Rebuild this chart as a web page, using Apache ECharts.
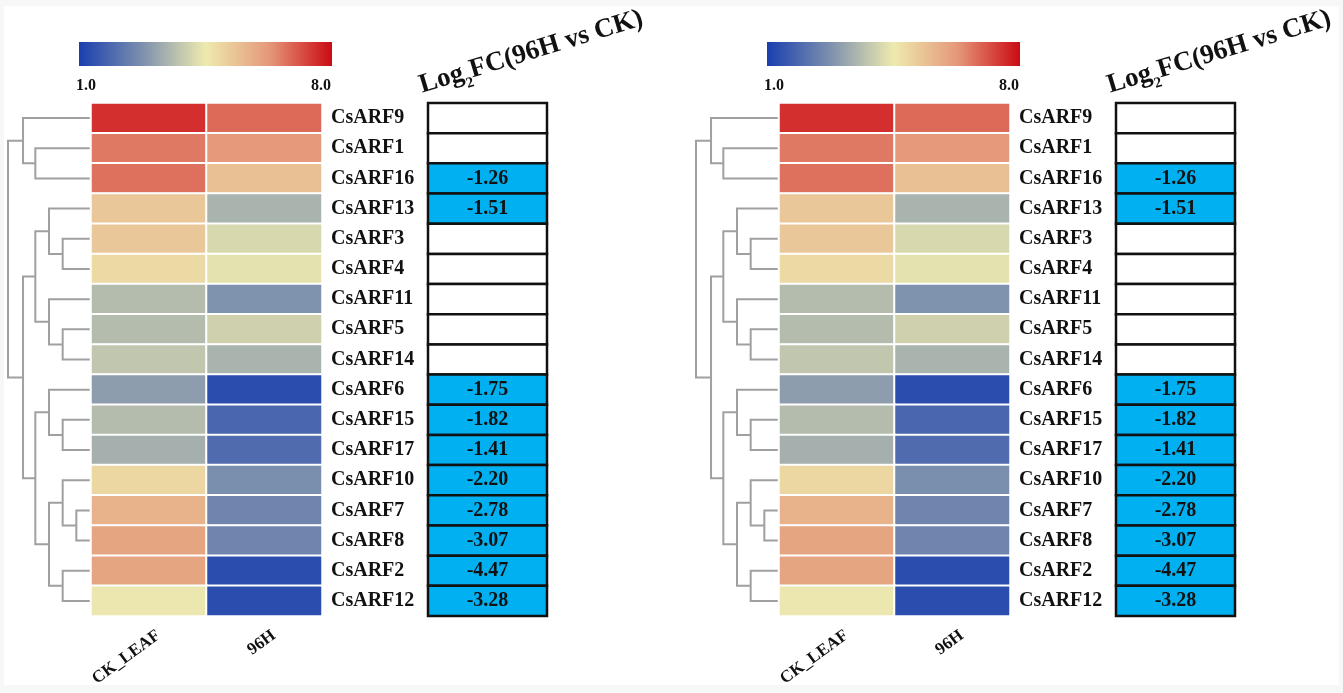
<!DOCTYPE html>
<html>
<head>
<meta charset="utf-8">
<script src="https://cdn.jsdelivr.net/npm/echarts@6/dist/echarts.min.js"></script>
<style>
html,body{margin:0;padding:0;background:#fff;}
#chart{width:1343px;height:693px;}
</style>
</head>
<body>
<div id="chart"></div>
<script>
// ---- data ----
const genes = ['CsARF9','CsARF1','CsARF16','CsARF13','CsARF3','CsARF4','CsARF11','CsARF5','CsARF14','CsARF6','CsARF15','CsARF17','CsARF10','CsARF7','CsARF8','CsARF2','CsARF12'];
const samples = ['CK_LEAF','96H'];
const ckValues  = [7.55, 6.64, 6.74, 5.25, 5.25, 4.85, 3.6, 3.6, 3.8, 3.0, 3.6, 3.35, 4.9, 5.7, 6.0, 6.0, 4.45];
const h96Values = [6.83, 6.2, 5.4, 3.45, 4.15, 4.35, 2.8, 4.0, 3.45, 1.3, 1.85, 1.95, 2.7, 2.52, 2.52, 1.3, 1.3];
const log2fc = [null, null, -1.26, -1.51, null, null, null, null, null, -1.75, -1.82, -1.41, -2.20, -2.78, -3.07, -4.47, -3.28];
const colorRange = [1, 8];
const colorTicks = ['1.0', '8.0'];
const paletteColors = ['#1a3fae', '#7d90ae', '#eeeaae', '#e5997a', '#cc0a14'];
// hierarchical clustering (scipy-like): [childA, childB, height]; leaves 0..16, new nodes 17+
const linkage = [
  [1, 2, 4], [0, 17, 4.9], [4, 5, 2], [3, 19, 3], [7, 8, 2], [6, 21, 3], [20, 22, 4],
  [10, 11, 2], [9, 24, 3], [13, 14, 1], [12, 26, 2], [15, 16, 2], [27, 28, 3], [25, 29, 4],
  [23, 30, 4.9], [18, 31, 6]
];
const treeMaxHeight = 6;
const fcTitle = 'Log{sub|2}FC(96H vs CK)';

// ---- build ----
const serif = '"Liberation Serif","Times New Roman",serif';
const nLeaf = genes.length;
const nodeY = [], nodeH = [];
for (let i = 0; i < nLeaf; i++) { nodeY.push(i + 0.5); nodeH.push(0); }
const dendroData = linkage.map(([a, b, h]) => {
  const row = [nodeH[a], nodeY[a], nodeH[b], nodeY[b], h];
  nodeY.push((nodeY[a] + nodeY[b]) / 2); nodeH.push(h);
  return row;
});
const heatData = [];
genes.forEach((g, i) => { heatData.push([0, i, ckValues[i]]); heatData.push([1, i, h96Values[i]]); });
const fcData = log2fc.map((v, i) => [i, v === null ? 0 : v, v === null ? 0 : 1]);

const panels = [0, 688];
const grid = [], xAxis = [], yAxis = [], series = [], visualMap = [];
const graphic = [
  {type: 'rect', left: 4, top: 6, z: -10, shape: {width: 1335, height: 679}, style: {fill: '#ffffff'}}
];
panels.forEach((ox, p) => {
  const g0 = grid.length;
  grid.push({left: 8 + ox, top: 103, width: 82, height: 513});
  grid.push({left: 91 + ox, top: 103, width: 231, height: 513});
  grid.push({left: 428 + ox, top: 103, width: 119, height: 513});
  // dendrogram axes
  xAxis.push({type: 'value', gridIndex: g0, min: 0, max: treeMaxHeight, inverse: true, show: false});
  yAxis.push({type: 'value', gridIndex: g0, min: 0, max: nLeaf, inverse: true, show: false});
  // heatmap axes
  xAxis.push({type: 'category', gridIndex: g0 + 1, data: samples, axisLine: {show: false}, axisTick: {show: false}, splitLine: {show: false},
    axisLabel: {rotate: 36, margin: 25, padding: [0, -12, 0, 0], fontFamily: serif, fontWeight: 'bold', fontSize: 17, color: '#111'}});
  yAxis.push({type: 'category', gridIndex: g0 + 1, data: genes, inverse: true, position: 'right', axisLine: {show: false}, axisTick: {show: false}, splitLine: {show: false},
    axisLabel: {margin: 9, fontFamily: serif, fontWeight: 'bold', fontSize: 20, color: '#111'}});
  // fc axes
  xAxis.push({type: 'value', gridIndex: g0 + 2, min: 0, max: 1, show: false});
  yAxis.push({type: 'value', gridIndex: g0 + 2, min: 0, max: nLeaf, inverse: true, show: false});

  series.push({
    type: 'custom', xAxisIndex: g0, yAxisIndex: g0, data: dendroData, silent: true,
    renderItem: (params, api) => {
      const a = api.coord([api.value(0), api.value(1)]);
      const am = api.coord([api.value(4), api.value(1)]);
      const bm = api.coord([api.value(4), api.value(3)]);
      const b = api.coord([api.value(2), api.value(3)]);
      return {type: 'polyline', shape: {points: [a, am, bm, b]}, style: {stroke: '#a0a0a0', lineWidth: 2, fill: null}};
    }
  });
  const heatIdx = series.length;
  series.push({
    type: 'heatmap', xAxisIndex: g0 + 1, yAxisIndex: g0 + 1, data: heatData, silent: true,
    itemStyle: {borderColor: '#ffffff', borderWidth: 2}
  });
  series.push({
    type: 'custom', xAxisIndex: g0 + 2, yAxisIndex: g0 + 2, data: fcData, silent: true,
    renderItem: (params, api) => {
      const i = api.value(0);
      const tl = api.coord([0, i]);
      const br = api.coord([1, i + 1]);
      const has = api.value(2) === 1;
      const children = [{type: 'rect', shape: {x: tl[0], y: tl[1], width: br[0] - tl[0], height: br[1] - tl[1]},
        style: {fill: has ? '#00b0f0' : '#ffffff', stroke: '#111', lineWidth: 2.5}}];
      if (has) {
        children.push({type: 'text', style: {text: log2fc[params.dataIndex].toFixed(2), x: (tl[0] + br[0]) / 2, y: (tl[1] + br[1]) / 2,
          align: 'center', verticalAlign: 'middle', font: 'bold 20px ' + serif, fill: '#111'}});
      }
      return {type: 'group', children};
    }
  });
  visualMap.push({type: 'continuous', show: false, min: colorRange[0], max: colorRange[1], seriesIndex: heatIdx, inRange: {color: paletteColors}});

  // colour bar
  graphic.push({type: 'rect', left: 79 + ox, top: 42, shape: {width: 253, height: 24},
    style: {fill: new echarts.graphic.LinearGradient(0, 0, 1, 0, paletteColors.map((c, k) => ({offset: k / (paletteColors.length - 1), color: c})))}});
  graphic.push({type: 'text', x: 76 + ox, y: 86, style: {text: colorTicks[0], align: 'left', verticalAlign: 'middle', font: 'bold 16px ' + serif, fill: '#111'}});
  graphic.push({type: 'text', x: 331 + ox, y: 86, style: {text: colorTicks[1], align: 'right', verticalAlign: 'middle', font: 'bold 16px ' + serif, fill: '#111'}});
  // fc title
  graphic.push({type: 'text', x: 424 + ox, y: 99, rotation: 17 * Math.PI / 180,
    style: {text: fcTitle, align: 'left', verticalAlign: 'bottom', font: 'bold 27px ' + serif, fill: '#111',
      rich: {sub: {font: 'bold 15px ' + serif, fill: '#111', verticalAlign: 'bottom', padding: [0, 0, -6, 0]}}}});
});

const chart = echarts.init(document.getElementById('chart'), null, {renderer: 'canvas'});
chart.setOption({backgroundColor: '#f7f7f7', animation: false, grid, xAxis, yAxis, series, visualMap, graphic});
</script>
</body>
</html>
